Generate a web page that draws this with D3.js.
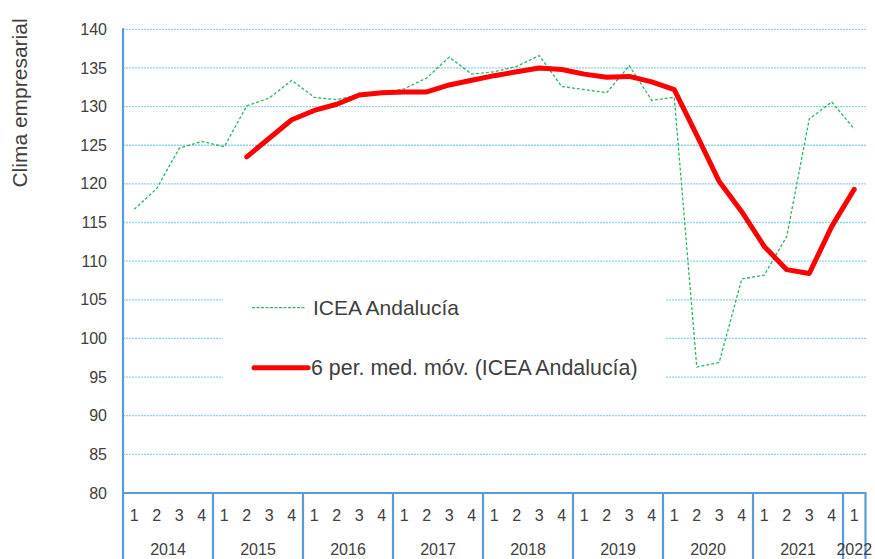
<!DOCTYPE html>
<html><head><meta charset="utf-8">
<script src="https://cdn.jsdelivr.net/npm/d3@7"></script>
<style>body{margin:0;background:#fff}svg{display:block;font-family:"Liberation Sans",Arial,sans-serif}</style>
</head><body><svg id="c" width="875" height="559"></svg>
<script>
const years = ["2014","2015","2016","2017","2018","2019","2020","2021","2022"];
const quarterLabels = ["1","2","3","4","1","2","3","4","1","2","3","4","1","2","3","4","1","2","3","4","1","2","3","4","1","2","3","4","1","2","3","4","1"];
const yearQuarters = [4,4,4,4,4,4,4,4,1];
const icea = [116.7,119.4,124.6,125.5, 124.8,130.1,131.1,133.4, 131.2,130.9,131.5,131.7, 132.3,133.7,136.4,134.2, 134.5,135.2,136.6,132.6, 132.2,131.8,135.3,130.8, 131.2,96.3,96.9,107.7, 108.2,113.2,128.4,130.6, 127.1];
const mediaMovil = [null,null,null,null,null,123.5,125.9,128.3, 129.5,130.3,131.5,131.8, 131.9,131.9,132.8,133.4, 134.0,134.5,135.0,134.8, 134.2,133.8,133.9,133.2, 132.2,126.3,120.3,116.4, 111.9,108.9,108.4,114.5, 119.3];
const yTicks = [80,85,90,95,100,105,110,115,120,125,130,135,140];
const seriesNames = ["ICEA Andalucía","6 per. med. móv. (ICEA Andalucía)"];

const svg = d3.select("#c");
const L = 123, R = 865.5, T = 29.3, B = 493;
const idx = d3.range(quarterLabels.length);
const x = d3.scaleBand().domain(idx).range([L, R]).padding(0);
const y = d3.scaleLinear().domain([80,140]).range([B, T]);
const cx = i => x(i) + x.bandwidth()/2;
const axisBlue = "#5b9bd5", txt = "#404040";

// y tick labels
const yAxis = d3.axisLeft(y).tickValues(yTicks).tickSize(0).tickPadding(16);
const gY = svg.append("g").attr("transform",`translate(${L},0)`).call(yAxis);
gY.select(".domain").remove();
gY.selectAll("text").attr("font-size",16).attr("fill",txt).attr("font-family","Liberation Sans, Arial, sans-serif");
// gridlines
svg.append("g").selectAll("line").data(yTicks.filter(v=>v>80)).join("line")
  .attr("x1",L).attr("x2",866.5).attr("y1",d=>y(d)).attr("y2",d=>y(d))
  .attr("stroke","#8fd3ea").attr("stroke-width",1.3).attr("stroke-dasharray","2,1");

// series
const lineG = d3.line().x((d,i)=>cx(i)).y(d=>y(d));
svg.append("path").datum(icea).attr("d",lineG).attr("fill","none")
  .attr("stroke","#2fb463").attr("stroke-width",1.3).attr("stroke-dasharray","3,2");
const lineR = d3.line().defined(d=>d!==null).x((d,i)=>cx(i)).y(d=>y(d));
svg.append("path").datum(mediaMovil).attr("d",lineR).attr("fill","none")
  .attr("stroke","#ff0000").attr("stroke-width",5).attr("stroke-linejoin","round").attr("stroke-linecap","round");

// legend
const lg = svg.append("g");
lg.append("rect").attr("x",223).attr("y",276).attr("width",442).attr("height",122).attr("fill","#fff");
lg.append("line").attr("x1",252).attr("x2",306).attr("y1",307.7).attr("y2",307.7)
  .attr("stroke","#2fb463").attr("stroke-width",1.3).attr("stroke-dasharray","3,1.5");
lg.append("text").attr("x",313).attr("y",315).attr("font-size",21).attr("fill",txt).text(seriesNames[0]);
lg.append("line").attr("x1",254).attr("x2",308).attr("y1",367.7).attr("y2",367.7)
  .attr("stroke","#ff0000").attr("stroke-width",5).attr("stroke-linecap","round");
lg.append("text").attr("x",311).attr("y",375).attr("font-size",21.4).attr("fill",txt).text(seriesNames[1]);

// axes lines
svg.append("line").attr("x1",L).attr("x2",L).attr("y1",T-1).attr("y2",559).attr("stroke",axisBlue).attr("stroke-width",2.2);
svg.append("line").attr("x1",L).attr("x2",866.5).attr("y1",B).attr("y2",B).attr("stroke",axisBlue).attr("stroke-width",2.2);

// quarter labels
svg.append("g").selectAll("text").data(quarterLabels).join("text")
  .attr("x",(d,i)=>cx(i)).attr("y",521).attr("text-anchor","middle").attr("font-size",16).attr("fill",txt).text(d=>d);

// year separators and labels
let start = 0;
const yearInfo = years.map((yr,k)=>{const s=start; start+=yearQuarters[k]; return {yr, s, e:start};});
const endX = d => x(d.e-1) + x.bandwidth();
svg.append("g").selectAll("line").data(yearInfo).join("line")
  .attr("x1",endX).attr("x2",endX)
  .attr("y1",B).attr("y2",559).attr("stroke",axisBlue).attr("stroke-width",2.2);
svg.append("g").selectAll("text").data(yearInfo).join("text")
  .attr("x",d=>(x(d.s)+endX(d))/2).attr("y",554.5).attr("text-anchor","middle")
  .attr("font-size",16).attr("fill",txt).text(d=>d.yr);

// y title
svg.append("text").attr("transform","translate(27,103) rotate(-90)").attr("text-anchor","middle")
  .attr("font-size",21).attr("fill",txt).text("Clima empresarial");
</script></body></html>
